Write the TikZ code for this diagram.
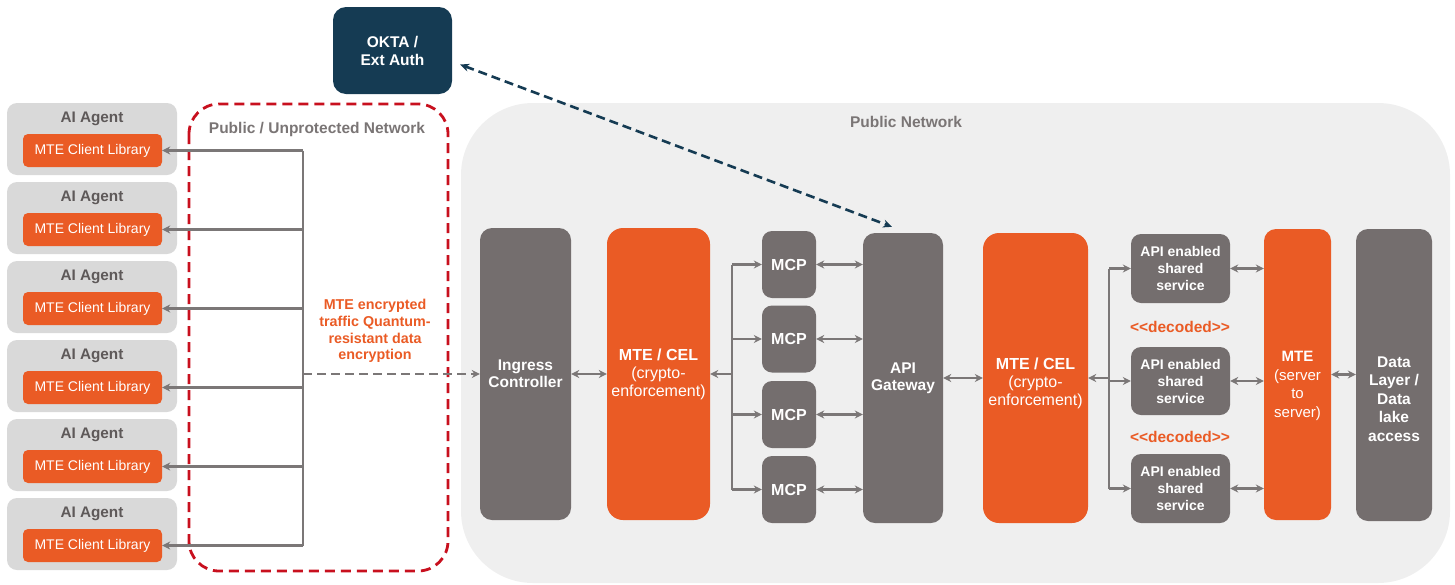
\documentclass[tikz,border=0pt]{standalone}
\usepackage{fontspec}
\setmainfont{Liberation Sans}
\usetikzlibrary{arrows.meta,calc}
\definecolor{orng}{HTML}{EA5B25}
\definecolor{dgray}{HTML}{746E6E}
\definecolor{lgray}{HTML}{D9D9D9}
\definecolor{regionc}{HTML}{EFEFEF}
\definecolor{navy}{HTML}{153B53}
\definecolor{dred}{HTML}{C8101E}
\definecolor{tgray}{HTML}{5E5959}
\definecolor{lblgray}{HTML}{7A7575}
\definecolor{lnk}{HTML}{7B7777}
\newcommand{\fs}[2]{\fontsize{#1}{#2}\selectfont}
\begin{document}
\begin{tikzpicture}[x=1pt,y=-1pt,
  agentbox/.style={fill=lgray, rounded corners=10, minimum width=170, minimum height=72, inner sep=0},
  agenttxt/.style={text=tgray, font=\fs{15.3}{18}\bfseries, inner sep=0},
  libbox/.style={fill=orng, rounded corners=5, minimum width=139, minimum height=33, inner sep=0, text=white, font=\fs{14}{17}},
  gbox/.style={fill=dgray, rounded corners=12, inner sep=0, text=white, align=center, font=\fs{15.5}{17}\bfseries},
  obox/.style={fill=orng, rounded corners=16, inner sep=0, text=white, align=center, font=\fs{16}{18}},
  wtxt/.style={text=white, align=center, inner sep=0},
  navybox/.style={fill=navy, rounded corners=13, minimum width=119, minimum height=87, inner sep=0, text=white, align=center, font=\fs{15.5}{18}\bfseries},
  lbl/.style={text=lblgray, font=\fs{15.5}{18}\bfseries, inner sep=0},
  dec/.style={text=orng, font=\fs{15.5}{18}\bfseries, inner sep=0},
  link/.style={draw=lnk, line width=2.2},
  onehead/.style={-{Stealth[length=8pt,width=8pt]}},
  twohead/.style={{Stealth[length=8pt,width=8pt]}-{Stealth[length=8pt,width=8pt]}}
]
\useasboundingbox (0,0) rectangle (1455,584);
\fill[regionc, rounded corners=72] (461,103) rectangle (1450,583);
\draw[dred, line width=2.8, dash pattern=on 10pt off 6pt, rounded corners=30] (189,104) rectangle (448,571);
\node[lbl] (pun) at (317,129) {Public / Unprotected Network};
\node[lbl] (pn) at (906,122) {Public Network};
\node[navybox] (okta) at (392.5,50.5) {OKTA /\\Ext Auth};

\foreach \i in {1,...,6} {
  \pgfmathsetmacro{\ty}{103+79*(\i-1)}
  \node[agentbox] (a\i) at (92,\ty+36) {};
  \node[agenttxt] (at\i) at (92,\ty+16) {AI Agent};
  \node[libbox] (l\i) at (92.5,\ty+47.5) {MTE Client Library};
}
\coordinate (busL) at (303,0);
\draw[link] (l1.east -| busL) -- (l6.east -| busL);
\foreach \i in {1,...,6} \draw[link, onehead] (l\i.east -| busL) -- (l\i.east);

\node[text=orng, align=center, font=\fs{14.3}{16.8}\bfseries, inner sep=0] (enc) at (375,331) {MTE encrypted\\traffic Quantum-\\resistant data\\encryption};

\node[gbox, minimum width=91, minimum height=292] (ing) at (525.5,374) {Ingress\\Controller};
\node[obox, minimum width=103, minimum height=292] (cel1) at (658.5,374) {\textbf{MTE / CEL}\\(crypto-\\enforcement)};
\node[gbox, font=\fs{16}{18}\bfseries, minimum width=54, minimum height=67, rounded corners=10] (m1) at (789,264.5) {MCP};
\node[gbox, font=\fs{16}{18}\bfseries, minimum width=54, minimum height=67, rounded corners=10] (m2) at (789,339) {MCP};
\node[gbox, font=\fs{16}{18}\bfseries, minimum width=54, minimum height=67, rounded corners=10] (m3) at (789,414.5) {MCP};
\node[gbox, font=\fs{16}{18}\bfseries, minimum width=54, minimum height=67, rounded corners=10] (m4) at (789,489.5) {MCP};
\node[gbox, minimum width=80, minimum height=290] (gw) at (903,378) {API\\Gateway};
\node[obox, minimum width=105, minimum height=290] (cel2) at (1035.5,378) {};
\node[wtxt, font=\fs{16}{18}] (cel2t) at (1035.5,383) {\textbf{MTE / CEL}\\(crypto-\\enforcement)};
\node[gbox, font=\fs{14}{17}\bfseries, minimum width=99, minimum height=69, rounded corners=10] (s1) at (1180.5,268.5) {API enabled\\shared\\service};
\node[gbox, font=\fs{14}{17}\bfseries, minimum width=99, minimum height=68, rounded corners=10] (s2) at (1180.5,381) {API enabled\\shared\\service};
\node[gbox, font=\fs{14}{17}\bfseries, minimum width=99, minimum height=69, rounded corners=10] (s3) at (1180.5,488.5) {API enabled\\shared\\service};
\node[dec] (d1) at (1180,327) {<\kern0pt<decoded>\kern0pt>};
\node[dec] (d2) at (1180,437) {<\kern0pt<decoded>\kern0pt>};
\node[obox, minimum width=67, minimum height=291, rounded corners=12] (mte) at (1297.5,374.5) {};
\node[wtxt, font=\fs{15}{18.5}] (mtet) at (1297.5,386) {\textbf{MTE}\\(server\\to\\server)};
\node[gbox, minimum width=76, minimum height=292] (dl) at (1394,375) {};
\node[wtxt, font=\fs{15.5}{18.5}\bfseries] (dlt) at (1394,399) {Data\\Layer /\\Data\\lake\\access};

\draw[link, line width=2.6, dash pattern=on 9pt off 5pt, onehead] (ing.west -| busL) -- (ing.west);
\draw[link, twohead] (ing.east) -- (cel1.west);
\coordinate (busM) at (732,0);
\draw[link] (m1 -| busM) -- (m4 -| busM);
\draw[link, onehead] (cel1.east -| busM) -- (cel1.east);
\foreach \i in {1,...,4} {
  \draw[link, onehead] (m\i -| busM) -- (m\i.west);
  \draw[link, twohead] (m\i.east) -- (m\i.east -| gw.west);
}
\draw[link, twohead] (gw.east) -- (cel2.west);
\coordinate (busR) at (1109,0);
\draw[link] (s1 -| busR) -- (s3 -| busR);
\draw[link, onehead] (cel2.east -| busR) -- (cel2.east);
\foreach \i in {1,...,3} {
  \draw[link, onehead] (s\i -| busR) -- (s\i.west);
  \draw[link, twohead] (s\i.east) -- (s\i.east -| mte.west);
}
\draw[link, twohead] (mte.east) -- (mte.east -| dl.west);
\draw[navy, line width=2.6, dash pattern=on 9pt off 5pt, {Stealth[length=9pt,width=8pt]}-{Stealth[length=9pt,width=8pt]}] ($(okta.east)+(8,14)$) -- ($(gw.north)+(-11,-6)$);
\end{tikzpicture}
\end{document}
